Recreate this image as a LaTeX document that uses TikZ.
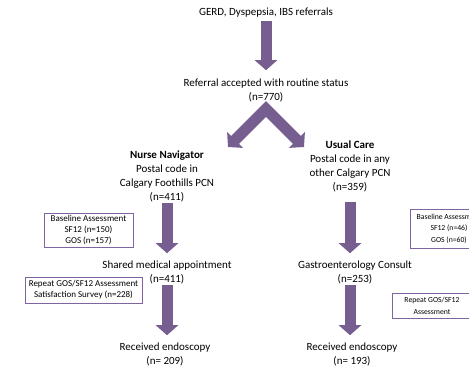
\documentclass[tikz,border=0pt]{standalone}
\usepackage{fontspec}
\setmainfont{Carlito}
\usetikzlibrary{arrows.meta}
\definecolor{arrowpurple}{RGB}{118,94,145}
\definecolor{boxpurple}{RGB}{128,100,162}
\begin{document}
\begin{tikzpicture}[x=1pt,y=-1pt,
      font=\fontsize{11}{14}\selectfont,
      txt/.style={align=center,inner sep=0pt},
      note/.style={draw=boxpurple,line width=0.9pt,align=center,inner sep=0pt,
                   font=\fontsize{9}{11}\selectfont},
      smallnote/.style={note,font=\fontsize{7.7}{11.5}\selectfont},
      fat/.style={draw=arrowpurple,line width=11pt,line join=miter,
                  -{Triangle[width=22pt,length=10pt]}}]
    \useasboundingbox (0,0) rectangle (469,367);
    % main flow
    \node[txt] (src) at (266,13) {GERD, Dyspepsia, IBS referrals};
    \node[txt] (acc) at (266,90) {Referral accepted with routine status\\(n=770)};
    \node[txt] (nn) at (167,176) {\textbf{Nurse Navigator}\\Postal code in\\Calgary Foothills PCN\\(n=411)};
    \node[txt] (uc) at (350,166) {\textbf{Usual Care}\\Postal code in any\\other Calgary PCN\\(n=359)};
    \node[txt] (sma) at (167,272) {Shared medical appointment\\(n=411)};
    \node[txt] (gc) at (355,272) {Gastroenterology Consult\\(n=253)};
    \node[txt] (endoL) at (165,354) {Received endoscopy\\(n= 209)};
    \node[txt] (endoR) at (352,354) {Received endoscopy\\(n= 193)};
    % assessments
    \node[note,minimum width=89pt,minimum height=34pt] (baseL) at (88.5,230)
      {Baseline Assessment\\SF12 (n=150)\\GOS (n=157)};
    \node[note,minimum width=117pt,minimum height=26pt] (repL) at (83.5,290)
      {Repeat GOS/SF12 Assessment\\Satisfaction Survey (n=228)};
    \node[smallnote,minimum width=78pt,minimum height=39pt] (baseR) at (449,228.5)
      {Baseline Assessment\\SF12 (n=46)\\GOS (n=60)};
    \node[smallnote,minimum width=80pt,minimum height=25pt] (repR) at (432,306)
      {Repeat GOS/SF12\\Assessment};
    % split into the two arms
    \coordinate (split) at (266,109);
    \coordinate (nnTip) at (228,147);
    \coordinate (ucTip) at (304,147);
    % arrows
    \draw[fat,shorten <=3pt,shorten >=8pt] (src.south) -- (acc.north);
    \draw[fat,{Triangle[width=22pt,length=10pt]}-{Triangle[width=22pt,length=10pt]}]
      (nnTip) -- (split) -- (ucTip);
    \draw[fat,shorten <=1pt,shorten >=7pt] (nn.south) -- (nn.south |- sma.north);
    \draw[fat,shorten <=1pt,shorten >=7pt] (sma.south) -- (sma.south |- endoL.north);
    \draw[fat,shorten <=10pt,shorten >=7pt] (uc.south) -- (uc.south |- gc.north);
    \draw[fat,shorten <=1pt,shorten >=7pt] (gc.south -| uc.south) -- (uc.south |- endoR.north);
\end{tikzpicture}
\end{document}
